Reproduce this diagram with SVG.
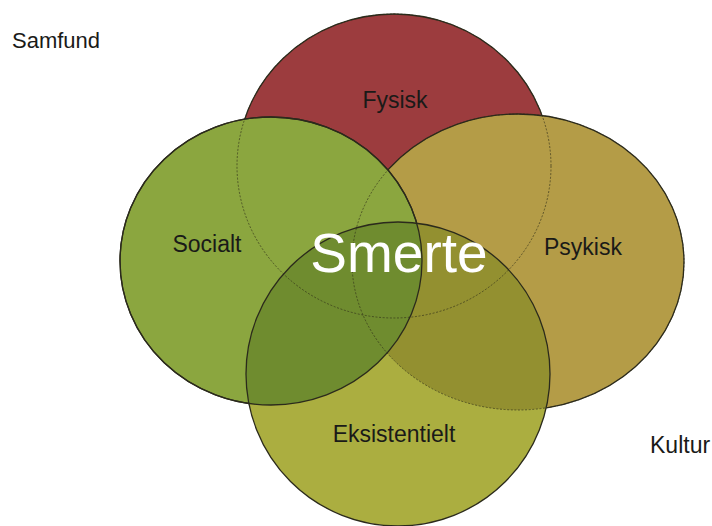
<svg xmlns="http://www.w3.org/2000/svg" width="712" height="526" viewBox="0 0 712 526">
<style>
.lbl{font-family:"Liberation Sans",Arial,sans-serif;font-size:23px;fill:#1a1a18;text-anchor:middle}
.out{stroke:#2b2a1c;stroke-width:1.3}
.hid{fill:none;stroke:#2e2d18;stroke-width:0.9;stroke-dasharray:2 1.6;stroke-opacity:0.7}
</style>
<defs>
<clipPath id="clipEks"><circle cx="398" cy="374" r="152"/></clipPath>
</defs>
<rect width="712" height="526" fill="#ffffff"/>
<g id="samfund"><text class="lbl" x="12" y="48" style="text-anchor:start;font-size:22px">Samfund</text></g>
<g id="kultur"><text class="lbl" x="650" y="453" style="text-anchor:start">Kultur</text></g>
<g id="fysisk">
<ellipse cx="394" cy="166" rx="157" ry="152" fill="#9c3c3e" class="out"/>
<text class="lbl" x="395" y="108">Fysisk</text>
</g>
<g id="psykisk">
<ellipse cx="518" cy="262" rx="166" ry="148" fill="#b49c47" class="out"/>
<text class="lbl" x="583" y="255">Psykisk</text>
</g>
<g id="socialt">
<ellipse cx="271" cy="261" rx="151" ry="144" fill="#8ba63f" class="out"/>
<text class="lbl" x="207" y="252">Socialt</text>
</g>
<g id="eksistentielt">
<circle cx="398" cy="374" r="152" fill="#abae40"/>
<g clip-path="url(#clipEks)">
<ellipse cx="518" cy="262" rx="166" ry="148" fill="#939030"/>
<ellipse cx="271" cy="261" rx="151" ry="144" fill="#6f8c2f"/>
</g>
<text class="lbl" x="394" y="442">Eksistentielt</text>
</g>
<g id="outlines">
<ellipse cx="394" cy="166" rx="157" ry="152" class="hid"/>
<ellipse cx="518" cy="262" rx="166" ry="148" class="hid"/>
<circle cx="398" cy="374" r="152" fill="none" class="out"/>
<ellipse cx="271" cy="261" rx="151" ry="144" fill="none" class="out"/>
</g>
<g id="smerte">
<text x="399" y="272" style="font-family:'Liberation Sans',Arial,sans-serif;font-size:55px;fill:#ffffff;text-anchor:middle">Smerte</text>
</g>
</svg>
